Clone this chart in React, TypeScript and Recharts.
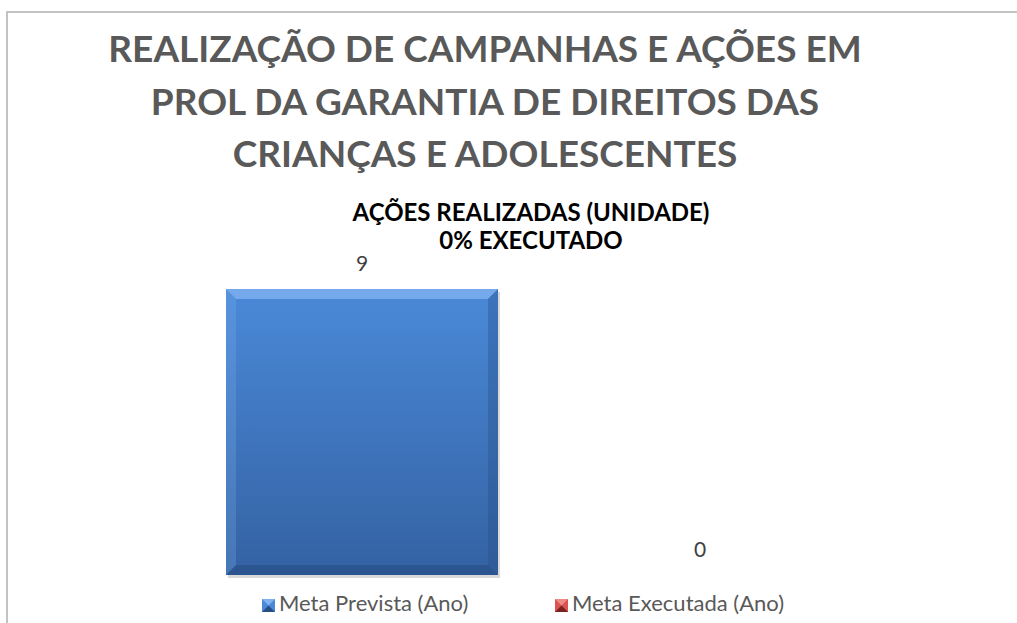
import { BarChart, Bar, XAxis, YAxis, LabelList, Legend } from "recharts";

const categories = ["Ações realizadas"];
const metaPrevista = [9];
const metaExecutada = [0];

const titleLines = [
  "REALIZAÇÃO DE CAMPANHAS E AÇÕES EM",
  "PROL DA GARANTIA DE DIREITOS DAS",
  "CRIANÇAS E ADOLESCENTES",
];
const subtitleLines = ["AÇÕES REALIZADAS (UNIDADE)", "0% EXECUTADO"];

const seriesNames = ["Meta Prevista (Ano)", "Meta Executada (Ano)"];

const data = categories.map((name, i) => ({
  name,
  prevista: metaPrevista[i],
  executada: metaExecutada[i],
}));

const FONT = "Lato, 'Open Sans', sans-serif";

const palette = {
  blue: { top: "#4a89d8", bottom: "#3462a3", light: "#80b2f0", dark: "#264d84" },
  red: { top: "#d9534f", bottom: "#9c2f2c", light: "#ef8a87", dark: "#7a2220" },
};

function BevelBar(props: any) {
  const { x, y, width, height, tone } = props;
  if (!height || height <= 0) return null;
  const c = palette[tone as "blue" | "red"];
  const b = Math.min(10, width / 6, height / 6);
  const id = `grad-${tone}`;
  return (
    <g>
      <rect x={x + 2} y={y + 3} width={width} height={height} fill="#000" opacity={0.15} />
      <rect x={x} y={y} width={width} height={height} fill={`url(#${id})`} />
      <polygon
        points={`${x},${y} ${x + width},${y} ${x + width - b},${y + b} ${x + b},${y + b}`}
        fill={c.light}
        opacity={0.8}
      />
      <polygon
        points={`${x},${y + height} ${x + width},${y + height} ${x + width - b},${y + height - b} ${x + b},${y + height - b}`}
        fill={c.dark}
        opacity={0.6}
      />
      <polygon
        points={`${x},${y} ${x + b},${y + b} ${x + b},${y + height - b} ${x},${y + height}`}
        fill={c.light}
        opacity={0.25}
      />
      <polygon
        points={`${x + width},${y} ${x + width - b},${y + b} ${x + width - b},${y + height - b} ${x + width},${y + height}`}
        fill={c.dark}
        opacity={0.35}
      />
    </g>
  );
}

function LegendIcon({ tone }: { tone: "blue" | "red" }) {
  const c = palette[tone];
  return (
    <svg width={13} height={13} style={{ marginRight: 4, verticalAlign: "-1px" }}>
      <rect x={0} y={0} width={13} height={13} fill={c.top} />
      <polygon points="0,0 13,0 6.5,6.5" fill={c.light} />
      <polygon points="0,13 13,13 6.5,6.5" fill={c.dark} />
    </svg>
  );
}

function renderLegend() {
  return (
    <div
      style={{
        display: "flex",
        fontFamily: FONT,
        fontSize: 22,
        lineHeight: "26px",
        color: "#595959",
        paddingLeft: 262,
      }}
    >
      <span style={{ width: 293, whiteSpace: "nowrap" }}>
        <LegendIcon tone="blue" />
        {seriesNames[0]}
      </span>
      <span style={{ whiteSpace: "nowrap" }}>
        <LegendIcon tone="red" />
        {seriesNames[1]}
      </span>
    </div>
  );
}

export default function App() {
  return (
    <div
      style={{
        position: "fixed",
        left: 0,
        top: 0,
        width: 1017,
        height: 623,
        background: "#fff",
        overflow: "hidden",
      }}
    >
      <style>{"html,body{margin:0;padding:0;overflow:hidden;background:#fff}"}</style>
      <div
        style={{ position: "absolute", left: 6, top: 11, width: 1011, height: 2, background: "#c3c3c3" }}
      />
      <div
        style={{ position: "absolute", left: 6, top: 11, width: 2, height: 612, background: "#c3c3c3" }}
      />
      <div
        style={{
          position: "absolute",
          left: 0,
          top: 22,
          width: 970,
          textAlign: "center",
          fontFamily: FONT,
          fontWeight: "bold",
          fontSize: 37,
          lineHeight: "52.5px",
          color: "#595959",
        }}
      >
        {titleLines.map((t) => (
          <div key={t}>{t}</div>
        ))}
      </div>
      <div
        style={{
          position: "absolute",
          left: 0,
          top: 198,
          width: 1062,
          textAlign: "center",
          fontFamily: FONT,
          fontWeight: "bold",
          fontSize: 24,
          lineHeight: "28px",
          color: "#000",
        }}
      >
        {subtitleLines.map((t) => (
          <div key={t}>{t}</div>
        ))}
      </div>
      <div style={{ position: "absolute", left: 0, top: 0, width: 1017, height: 623 }}>
        <BarChart
          width={1017}
          height={623}
          data={data}
          margin={{ top: 289, right: 115, bottom: 22, left: 160 }}
          barSize={272}
          barGap={66}
        >
          <defs>
            {(["blue", "red"] as const).map((tone) => (
              <linearGradient key={tone} id={`grad-${tone}`} x1="0" y1="0" x2="0" y2="1">
                <stop offset="0%" stopColor={palette[tone].top} />
                <stop offset="100%" stopColor={palette[tone].bottom} />
              </linearGradient>
            ))}
          </defs>
          <XAxis dataKey="name" hide />
          <YAxis hide domain={[0, 9]} />
          <Legend
            content={renderLegend}
            wrapperStyle={{ position: "absolute", left: 0, top: 590, width: 1017 }}
          />
          <Bar
            dataKey="prevista"
            name={seriesNames[0]}
            isAnimationActive={false}
            shape={(p: any) => <BevelBar {...p} tone="blue" />}
          >
            <LabelList
              dataKey="prevista"
              position="top"
              offset={18}
              style={{ fontFamily: FONT, fontSize: 21, fill: "#404040" }}
            />
          </Bar>
          <Bar
            dataKey="executada"
            name={seriesNames[1]}
            isAnimationActive={false}
            shape={(p: any) => <BevelBar {...p} tone="red" />}
          >
            <LabelList
              dataKey="executada"
              position="top"
              offset={18}
              style={{ fontFamily: FONT, fontSize: 21, fill: "#404040" }}
            />
          </Bar>
        </BarChart>
      </div>
    </div>
  );
}
